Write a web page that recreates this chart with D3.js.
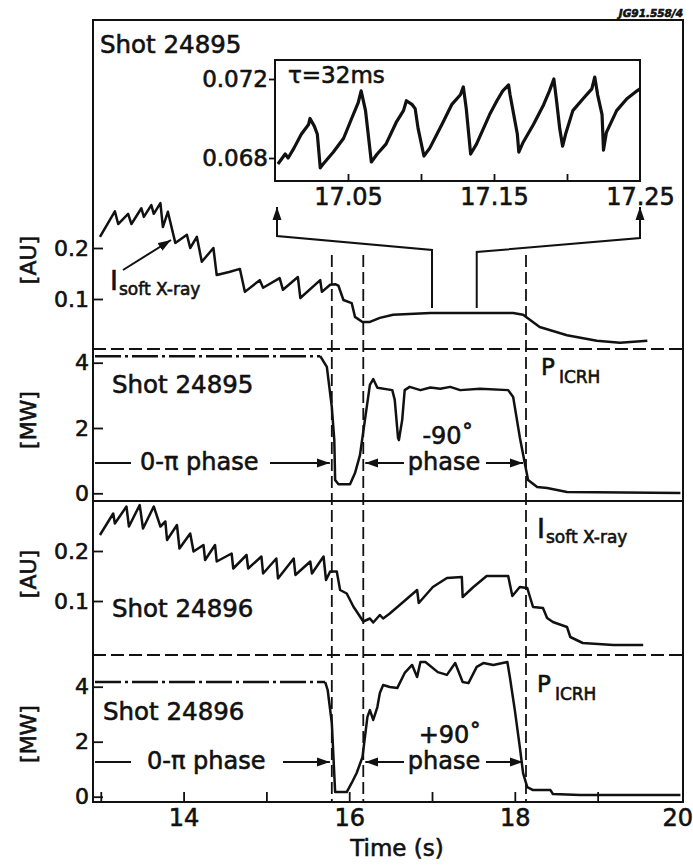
<!DOCTYPE html>
<html>
<head>
<meta charset="utf-8">
<script src="https://cdn.jsdelivr.net/npm/d3@7"></script>
<style>
  body { margin: 0; background: #fff; }
  svg text { font-family: "DejaVu Sans", sans-serif; fill: #111; stroke: #111; stroke-width: 0.6px; }
</style>
</head>
<body>
<svg id="chart" width="693" height="867"></svg>
<script>
// ---- data ----------------------------------------------------------------
// time axis (s)
const timeTicks = [13, 14, 15, 16, 17, 18, 19];
const timeLabels = [14, 16, 18, 20];
// antenna phasing switch times (s)
const phaseSwitch = [15.79, 16.17, 18.135];

// soft X-ray intensity, shot 24895 [time s, AU]
const sxr24895 = [
  [12.99,0.222],[13.17,0.272],[13.21,0.247],[13.33,0.267],[13.37,0.247],[13.49,0.278],
  [13.52,0.261],[13.61,0.284],[13.64,0.267],[13.72,0.288],[13.75,0.241],[13.81,0.271],
  [13.90,0.210],[14.04,0.226],[14.08,0.200],[14.16,0.222],[14.22,0.173],[14.36,0.200],
  [14.40,0.147],[14.55,0.153],[14.68,0.159],[14.74,0.114],[14.92,0.137],[14.96,0.122],
  [15.16,0.141],[15.20,0.118],[15.38,0.143],[15.41,0.102],[15.65,0.137],[15.67,0.114],
  [15.77,0.128],[15.83,0.129],[15.87,0.126],[15.93,0.098],[16.03,0.092],[16.07,0.065],
  [16.16,0.055],[16.25,0.055],[16.37,0.063],[16.53,0.069],[16.98,0.0725],[17.98,0.0725],
  [18.10,0.069],[18.30,0.045],[18.63,0.029],[18.99,0.018],[19.27,0.014],[19.60,0.018]
];

// ICRH power, shot 24895 [time s, MW]
const picrh24895 = [
  [12.93,4.2],[15.65,4.2],[15.73,3.87],[15.79,2.64],[15.82,1.63],[15.83,0.41],[15.87,0.28],
  [16.01,0.28],[16.07,0.62],[16.13,1.17],[16.19,2.25],[16.25,3.32],[16.29,3.50],[16.34,3.23],
  [16.52,3.16],[16.55,2.86],[16.59,1.69],[16.60,1.63],[16.64,2.25],[16.67,3.16],[16.73,3.26],
  [16.86,3.16],[16.98,3.24],[17.10,3.20],[17.22,3.26],[17.34,3.16],[17.58,3.20],[17.92,3.16],
  [17.98,2.95],[18.06,1.72],[18.12,0.93],[18.16,0.41],[18.27,0.19],[18.39,0.16],[18.63,0.04],
  [20.0,0.01]
];

// soft X-ray intensity, shot 24896 [time s, AU]
const sxr24896 = [
  [12.99,0.232],[13.15,0.275],[13.17,0.255],[13.31,0.289],[13.34,0.249],[13.47,0.292],
  [13.51,0.245],[13.64,0.289],[13.72,0.249],[13.78,0.259],[13.80,0.222],[13.92,0.252],
  [13.95,0.205],[14.08,0.235],[14.12,0.199],[14.24,0.212],[14.26,0.182],[14.38,0.212],
  [14.40,0.179],[14.58,0.195],[14.60,0.165],[14.76,0.192],[14.78,0.165],[14.94,0.189],
  [14.96,0.155],[15.12,0.185],[15.14,0.145],[15.33,0.185],[15.35,0.152],[15.53,0.179],
  [15.55,0.155],[15.69,0.189],[15.72,0.142],[15.77,0.159],[15.85,0.159],[15.89,0.122],
  [15.97,0.115],[16.05,0.089],[16.13,0.069],[16.17,0.059],[16.25,0.065],[16.29,0.057],
  [16.37,0.072],[16.41,0.065],[16.49,0.075],[16.61,0.092],[16.82,0.122],[16.84,0.096],
  [17.01,0.128],[17.18,0.146],[17.36,0.148],[17.37,0.108],[17.50,0.128],[17.66,0.150],
  [17.92,0.150],[17.97,0.110],[18.06,0.128],[18.15,0.126],[18.22,0.088],[18.34,0.086],
  [18.39,0.066],[18.46,0.058],[18.63,0.048],[18.67,0.028],[18.82,0.016],[19.19,0.012],
  [19.55,0.012]
];

// ICRH power, shot 24896 [time s, MW]
const picrh24896 = [
  [12.93,4.17],[15.71,4.17],[15.74,3.88],[15.79,2.68],[15.83,0.17],[15.97,0.17],[16.03,0.50],
  [16.09,0.86],[16.16,1.44],[16.22,2.90],[16.25,3.15],[16.29,2.79],[16.34,3.26],[16.37,3.77],
  [16.41,4.06],[16.49,3.99],[16.58,3.95],[16.67,4.50],[16.76,4.79],[16.82,4.35],[16.86,4.90],
  [16.92,4.90],[17.07,4.53],[17.18,4.43],[17.28,4.86],[17.37,4.17],[17.44,4.13],[17.54,4.72],
  [17.62,4.86],[17.74,4.79],[17.91,4.90],[17.94,4.35],[18.00,3.15],[18.06,1.81],[18.10,0.86],
  [18.15,0.35],[18.22,0.24],[18.43,0.24],[18.46,0.10],[18.79,0.06],[20.0,0.06]
];

// soft X-ray detail, shot 24895, 17.00-17.25 s [time s, AU]
const sxrDetail = [
  [17.002,0.0677],[17.007,0.0682],[17.009,0.0680],[17.013,0.0685],[17.018,0.0692],[17.023,0.0697],
  [17.024,0.0700],[17.027,0.0696],[17.029,0.0692],[17.031,0.0675],[17.033,0.0677],[17.040,0.0683],
  [17.047,0.0690],[17.0525,0.0700],[17.057,0.0708],[17.059,0.0714],[17.062,0.0704],[17.066,0.0678],
  [17.070,0.0682],[17.076,0.0687],[17.083,0.0698],[17.088,0.0704],[17.090,0.0709],[17.094,0.0707],
  [17.096,0.0705],[17.098,0.0695],[17.102,0.0681],[17.106,0.0685],[17.115,0.0698],[17.121,0.0707],
  [17.127,0.0712],[17.129,0.0716],[17.131,0.0705],[17.134,0.0682],[17.138,0.0687],[17.147,0.0702],
  [17.152,0.0709],[17.156,0.0714],[17.160,0.0717],[17.161,0.0712],[17.166,0.0692],[17.167,0.0683],
  [17.170,0.0688],[17.177,0.0697],[17.184,0.0707],[17.188,0.0714],[17.191,0.0720],[17.193,0.0708],
  [17.195,0.0695],[17.197,0.0686],[17.199,0.0692],[17.204,0.0704],[17.211,0.0710],[17.217,0.0715],
  [17.219,0.0721],[17.221,0.0712],[17.224,0.0702],[17.225,0.0684],[17.227,0.0693],[17.234,0.0704],
  [17.241,0.0710],[17.248,0.0714],[17.250,0.0715]
];

const auTicks = [0.1, 0.2];
const mwTicks = [0, 2, 4];
const detailTicksX = [17.05, 17.10, 17.15, 17.20];
const detailLabelsX = [17.05, 17.15, 17.25];
const detailTicksY = [0.068, 0.072];
// time window marked on the full trace for the detail box
const detailWindow = [17.0, 17.54];

// ---- layout --------------------------------------------------------------
const svg = d3.select("#chart");
const fL = 93, fR = 683, fT = 20, fB = 802;

const x = d3.scaleLinear().domain([12.906, 20.031]).range([fL, fR]);
const y1 = d3.scaleLinear().domain([0, 0.2]).range([350, 248]);
const y2 = d3.scaleLinear().domain([0, 4]).range([493.3, 362.7]);
const y3 = d3.scaleLinear().domain([0, 0.2]).range([651, 551]);
const y4 = d3.scaleLinear().domain([0, 4]).range([796.7, 686.7]);

const box = { x0: 275, x1: 640, y0: 60, y1: 181 };
const xi = d3.scaleLinear().domain([17.0, 17.25]).range([box.x0, box.x1]);
const yi = d3.scaleLinear().domain([0.068, 0.072]).range([158, 79]);

// arrow heads
const defs = svg.append("defs");
defs.append("marker")
  .attr("id", "head").attr("markerUnits", "userSpaceOnUse")
  .attr("markerWidth", 14).attr("markerHeight", 10)
  .attr("refX", 13).attr("refY", 5).attr("orient", "auto")
  .append("path").attr("d", "M0,0.5 L13,5 L0,9.5 Z").attr("fill", "#111");

const ink = "#111";

// ---- frame & separators --------------------------------------------------
svg.append("rect")
  .attr("x", fL).attr("y", fT).attr("width", fR - fL).attr("height", fB - fT)
  .attr("fill", "none").attr("stroke", ink).attr("stroke-width", 2);

const sepDashed = [349, 655];
sepDashed.forEach(yy => svg.append("line")
  .attr("x1", fL).attr("x2", fR).attr("y1", yy).attr("y2", yy)
  .attr("stroke", ink).attr("stroke-width", 1.8).attr("stroke-dasharray", "13,5"));
svg.append("line").attr("x1", fL).attr("x2", fR).attr("y1", 501).attr("y2", 501)
  .attr("stroke", ink).attr("stroke-width", 2);

// phase switch markers
phaseSwitch.forEach(t => svg.append("line")
  .attr("x1", x(t)).attr("x2", x(t)).attr("y1", 255).attr("y2", fB)
  .attr("stroke", ink).attr("stroke-width", 1.8).attr("stroke-dasharray", "12,5"));

// ---- axes ----------------------------------------------------------------
function leftAxis(scale, values, fmt) {
  const g = svg.append("g").attr("transform", `translate(${fL},0)`)
    .call(d3.axisLeft(scale).tickValues(values).tickSize(-10).tickPadding(4).tickFormat(fmt));
  g.select(".domain").remove();
  g.selectAll(".tick line").attr("stroke", ink).attr("stroke-width", 1.8);
  g.selectAll(".tick text").attr("font-size", 22).attr("font-family", null);
  return g;
}
const fmtAU = d => d3.format(".1f")(d);
leftAxis(y1, auTicks, fmtAU);
leftAxis(y2, mwTicks, d3.format("d"));
leftAxis(y3, auTicks, fmtAU);
leftAxis(y4, mwTicks, d3.format("d"));

const gxT = svg.append("g").attr("transform", `translate(0,${fB})`)
  .call(d3.axisBottom(x).tickValues(timeTicks).tickSize(-10).tickFormat(""));
gxT.select(".domain").remove();
gxT.selectAll(".tick line").attr("stroke", ink).attr("stroke-width", 1.8);

const gxL = svg.append("g").attr("transform", `translate(0,${fB})`)
  .call(d3.axisBottom(x).tickValues(timeLabels).tickSize(0).tickPadding(7).tickFormat(d3.format("d")));
gxL.select(".domain").remove();
gxL.selectAll(".tick text").attr("font-size", 24).attr("font-family", null);
// keep the last label inside the page edge
gxL.selectAll(".tick text").filter(d => d === timeLabels[timeLabels.length - 1])
  .attr("text-anchor", "end").attr("x", 12);

svg.append("text").attr("x", 397).attr("y", 856).attr("text-anchor", "middle")
  .attr("font-size", 23).text("Time (s)");

// unit labels
const unitLabels = [["[AU]", 260], ["[MW]", 420], ["[AU]", 574], ["[MW]", 734]];
unitLabels.forEach(([txt, cy]) => svg.append("text")
  .attr("transform", `translate(36,${cy}) rotate(-90)`)
  .attr("text-anchor", "middle").attr("font-size", 22).text(txt));

svg.append("text").attr("x", 683).attr("y", 17).attr("text-anchor", "end")
  .attr("font-size", 10.5).attr("font-weight", "bold").attr("font-style", "italic").text("JG91.558/4");

// ---- traces --------------------------------------------------------------
function trace(data, ys, width) {
  svg.append("path").datum(data)
    .attr("d", d3.line().x(d => x(d[0])).y(d => ys(d[1])))
    .attr("fill", "none").attr("stroke", ink).attr("stroke-width", width || 2.5)
    .attr("stroke-linejoin", "round");
}
// power traces: flat pre-switch plateau drawn dash-dot, the rest solid
function powerTrace(data, ys) {
  const level = data[0][1];
  let n = 0;
  while (n < data.length && data[n][1] === level) n++;
  svg.append("path").datum(data.slice(0, n))
    .attr("d", d3.line().x(d => x(d[0])).y(d => ys(d[1])))
    .attr("fill", "none").attr("stroke", ink).attr("stroke-width", 2.5)
    .attr("stroke-dasharray", "26,4,3,4");
  trace(data.slice(n - 1), ys);
}
trace(sxr24895, y1);
powerTrace(picrh24895, y2);
trace(sxr24896, y3);
powerTrace(picrh24896, y4);

// ---- detail box ----------------------------------------------------------
svg.append("rect").attr("x", box.x0).attr("y", box.y0)
  .attr("width", box.x1 - box.x0).attr("height", box.y1 - box.y0)
  .attr("fill", "#fff").attr("stroke", ink).attr("stroke-width", 2);

const gix = svg.append("g").attr("transform", `translate(0,${box.y1})`)
  .call(d3.axisBottom(xi).tickValues(detailTicksX).tickSize(-7).tickFormat(""));
gix.select(".domain").remove();
gix.selectAll(".tick line").attr("stroke", ink).attr("stroke-width", 1.8);
const gixL = svg.append("g").attr("transform", `translate(0,${box.y1})`)
  .call(d3.axisBottom(xi).tickValues(detailLabelsX).tickSize(0).tickPadding(7).tickFormat(d3.format(".2f")));
gixL.select(".domain").remove();
gixL.selectAll(".tick text").attr("font-size", 24).attr("font-family", null);

const giy = svg.append("g").attr("transform", `translate(${box.x0},0)`)
  .call(d3.axisLeft(yi).tickValues(detailTicksY).tickSize(6).tickPadding(1).tickFormat(d3.format(".3f")));
giy.select(".domain").remove();
giy.selectAll(".tick line").attr("stroke", ink).attr("stroke-width", 1.8);
giy.selectAll(".tick text").attr("font-size", 23).attr("font-family", null);

svg.append("path").datum(sxrDetail)
  .attr("d", d3.line().x(d => xi(d[0])).y(d => yi(d[1])))
  .attr("fill", "none").attr("stroke", ink).attr("stroke-width", 3.2)
  .attr("stroke-linejoin", "round");

svg.append("text").attr("x", 288).attr("y", 83).attr("font-size", 23).text("τ=32ms");

// pointers from the full trace up to the detail box
const wl = x(detailWindow[0]), wr = x(detailWindow[1]);
svg.append("path")
  .attr("d", `M${wl},308 L${wl},250 L${box.x0 + 2},236 L${box.x0 + 2},207`)
  .attr("fill", "none").attr("stroke", ink).attr("stroke-width", 2).attr("marker-end", "url(#head)");
svg.append("path")
  .attr("d", `M${wr},308 L${wr},252 L${box.x1},238 L${box.x1},207`)
  .attr("fill", "none").attr("stroke", ink).attr("stroke-width", 2).attr("marker-end", "url(#head)");

// ---- annotations ---------------------------------------------------------
function shot(txt, xx, yy) {
  svg.append("text").attr("x", xx).attr("y", yy).attr("font-size", 24.5).text(txt);
}
shot("Shot 24895", 100, 53);
shot("Shot 24895", 112, 393);
shot("Shot 24896", 112, 617);
shot("Shot 24896", 103, 720);

function subLabel(main, sub, xx, yy, mainSize, subSize, gap, drop) {
  const t = svg.append("text").attr("x", xx).attr("y", yy);
  t.append("tspan").attr("font-size", mainSize).text(main);
  t.append("tspan").attr("font-size", subSize).attr("dx", gap).attr("dy", drop).text(sub);
}
subLabel("I", "soft X-ray", 110, 290, 27, 17, 1, 5);
subLabel("I", "soft X-ray", 537, 538, 27, 17, 1, 5);
subLabel("P", "ICRH", 541, 375, 23, 17, 4, 8);
subLabel("P", "ICRH", 537, 692, 23, 17, 4, 8);

svg.append("line").attr("x1", 123).attr("y1", 270).attr("x2", 171).attr("y2", 240)
  .attr("stroke", ink).attr("stroke-width", 2).attr("marker-end", "url(#head)");

function arrow(x1, x2, yy) {
  svg.append("line").attr("x1", x1).attr("x2", x2).attr("y1", yy).attr("y2", yy)
    .attr("stroke", ink).attr("stroke-width", 2).attr("marker-end", "url(#head)");
}
function phaseNotes(yy, base, label2, cx2, textX, arrowStart) {
  const s0 = x(phaseSwitch[0]), s1 = x(phaseSwitch[1]), s2 = x(phaseSwitch[2]);
  svg.append("line").attr("x1", fL + 2).attr("x2", 131).attr("y1", yy).attr("y2", yy)
    .attr("stroke", ink).attr("stroke-width", 2);
  svg.append("text").attr("x", textX).attr("y", base).attr("font-size", 24).text("0-π phase");
  arrow(arrowStart, s0 - 2, yy);
  arrow(404, s1 + 2, yy);
  svg.append("text").attr("x", 444).attr("y", base).attr("text-anchor", "middle")
    .attr("font-size", 24).text("phase");
  arrow(486, s2 - 3, yy);
  svg.append("text").attr("x", cx2).attr("y", base - 26).attr("text-anchor", "middle")
    .attr("font-size", 24).text(label2);
}
phaseNotes(463, 470, "-90˚", 448, 140, 270);
phaseNotes(762, 769, "+90˚", 450, 147, 283);
</script>
</body>
</html>
